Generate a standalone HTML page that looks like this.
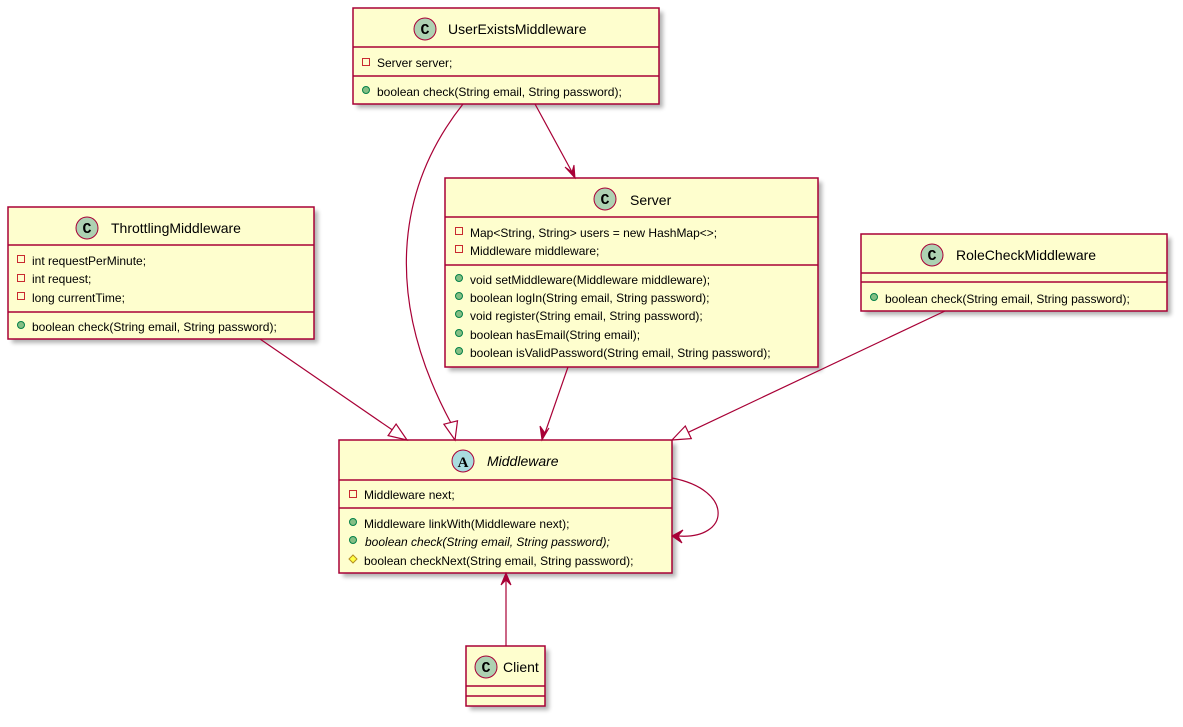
<!DOCTYPE html>
<html><head><meta charset="utf-8"><style>
body{margin:0;background:#fff}
svg text{font-family:"Liberation Sans",sans-serif;fill:#000}
</style></head><body>
<svg width="1183" height="722" viewBox="0 0 1183 722" xmlns="http://www.w3.org/2000/svg">
<defs>
<filter id="sh" x="-5%" y="-5%" width="115%" height="120%"><feGaussianBlur stdDeviation="2"/></filter>
<g id="cc"><circle r="11" fill="#ADD1B2" stroke="#A80036" stroke-width="1"/><text x="0" y="5" font-size="15" text-anchor="middle" font-weight="bold" style="font-family:'Liberation Mono',monospace">C</text></g>
<g id="priv"><rect x="-3.5" y="-3.5" width="7" height="7" fill="none" stroke="#C82930" stroke-width="1"/></g>
<g id="pub"><circle r="3.5" fill="#84BE84" stroke="#038048" stroke-width="1"/></g>
</defs>
<g fill="#000" opacity="0.3" filter="url(#sh)">
<rect x="357" y="12" width="306" height="96"/><rect x="449" y="182" width="373" height="189"/>
<rect x="343" y="444" width="333" height="133"/><rect x="470" y="650" width="79" height="60"/>
<rect x="12" y="211" width="306" height="132"/><rect x="865" y="238" width="306" height="77"/>
</g>
<g fill="#FEFECE" stroke="#A80036" stroke-width="1.5">
<rect x="353" y="8" width="306" height="96"/><rect x="445" y="178" width="373" height="189"/>
<rect x="339" y="440" width="333" height="133"/><rect x="466" y="646" width="79" height="60"/>
<rect x="8" y="207" width="306" height="132"/><rect x="861" y="234" width="306" height="77"/>
</g>
<g stroke="#A80036" stroke-width="1.5">
<line x1="353" y1="47" x2="659" y2="47"/><line x1="353" y1="76" x2="659" y2="76"/>
<line x1="445" y1="217" x2="818" y2="217"/><line x1="445" y1="265" x2="818" y2="265"/>
<line x1="339" y1="480" x2="672" y2="480"/><line x1="339" y1="508" x2="672" y2="508"/>
<line x1="466" y1="686" x2="545" y2="686"/><line x1="466" y1="696" x2="545" y2="696"/>
<line x1="8" y1="245" x2="314" y2="245"/><line x1="8" y1="312" x2="314" y2="312"/>
<line x1="861" y1="273" x2="1167" y2="273"/><line x1="861" y1="282" x2="1167" y2="282"/>
</g>
<!-- UserExists -->
<use href="#cc" x="425" y="29"/><text x="448" y="34" font-size="14">UserExistsMiddleware</text>
<use href="#priv" x="366" y="62"/><text x="377" y="67" font-size="12">Server server;</text>
<use href="#pub" x="366" y="90"/><text x="377" y="96" font-size="12">boolean check(String email, String password);</text>
<!-- Server -->
<use href="#cc" x="605" y="199"/><text x="630" y="205" font-size="14">Server</text>
<use href="#priv" x="459" y="231"/><text x="470" y="237" font-size="12">Map&lt;String, String&gt; users = new HashMap&lt;&gt;;</text>
<use href="#priv" x="459" y="249"/><text x="470" y="255" font-size="12">Middleware middleware;</text>
<use href="#pub" x="459" y="278"/><text x="470" y="284" font-size="12">void setMiddleware(Middleware middleware);</text>
<use href="#pub" x="459" y="296"/><text x="470" y="302" font-size="12">boolean logIn(String email, String password);</text>
<use href="#pub" x="459" y="314"/><text x="470" y="320" font-size="12">void register(String email, String password);</text>
<use href="#pub" x="459" y="333"/><text x="470" y="339" font-size="12">boolean hasEmail(String email);</text>
<use href="#pub" x="459" y="351"/><text x="470" y="357" font-size="12">boolean isValidPassword(String email, String password);</text>
<!-- Throttling -->
<use href="#cc" x="87" y="228"/><text x="111" y="233" font-size="14">ThrottlingMiddleware</text>
<use href="#priv" x="21" y="259"/><text x="32" y="265" font-size="12">int requestPerMinute;</text>
<use href="#priv" x="21" y="278"/><text x="32" y="283" font-size="12">int request;</text>
<use href="#priv" x="21" y="296"/><text x="32" y="302" font-size="12">long currentTime;</text>
<use href="#pub" x="21" y="325"/><text x="32" y="331" font-size="12">boolean check(String email, String password);</text>
<!-- RoleCheck -->
<use href="#cc" x="932" y="255"/><text x="956" y="260" font-size="14">RoleCheckMiddleware</text>
<use href="#pub" x="874" y="297"/><text x="885" y="303" font-size="12">boolean check(String email, String password);</text>
<!-- Middleware -->
<circle cx="463" cy="461" r="11" fill="#A9DCDF" stroke="#A80036"/><text x="463" y="467" font-size="15" text-anchor="middle" font-weight="bold" style="font-family:'Liberation Serif',serif">A</text>
<text x="487" y="466" font-size="14" font-style="italic">Middleware</text>
<use href="#priv" x="353" y="494"/><text x="364" y="499" font-size="12">Middleware next;</text>
<use href="#pub" x="353" y="522"/><text x="364" y="528" font-size="12">Middleware linkWith(Middleware next);</text>
<use href="#pub" x="353" y="540"/><text x="365" y="546" font-size="12" font-style="italic">boolean check(String email, String password);</text>
<polygon points="353,555 357,559 353,563 349,559" fill="#FFFF44" stroke="#B38D22"/><text x="364" y="565" font-size="12">boolean checkNext(String email, String password);</text>
<!-- Client -->
<use href="#cc" x="486" y="667"/><text x="503" y="672" font-size="14">Client</text>
<!-- edges -->
<g stroke="#A80036" stroke-width="1.2" fill="none">
<line x1="260" y1="339" x2="392.1" y2="429.8"/>
<path d="M463,104 C395,190 385,300 450.7,422.5"/>
<line x1="535" y1="104" x2="572" y2="172"/>
<line x1="568" y1="367" x2="545" y2="433"/>
<line x1="945" y1="311" x2="688.3" y2="432.3"/>
<path d="M672,478 C735,490 730,540 678,536"/>
<line x1="506" y1="646" x2="506" y2="580"/>
</g>
<g stroke="#A80036" stroke-width="1.2" fill="#fff">
<polygon points="407,440 388.1,435.6 396.1,424"/>
<polygon points="455,440 443.9,424.2 457.5,420.8"/>
<polygon points="672,440 685.3,426 691.3,438.6"/>
</g>
<g fill="#A80036" stroke="#A80036">
<polygon points="575,178 565,167 572,172 574,165"/>
<polygon points="542,440 540,426 545,433 549,428"/>
<polygon points="672,536 683,530 678,536 682,543"/>
<polygon points="506,573 501,585 506,580 511,585"/>
</g>
</svg>
</body></html>
